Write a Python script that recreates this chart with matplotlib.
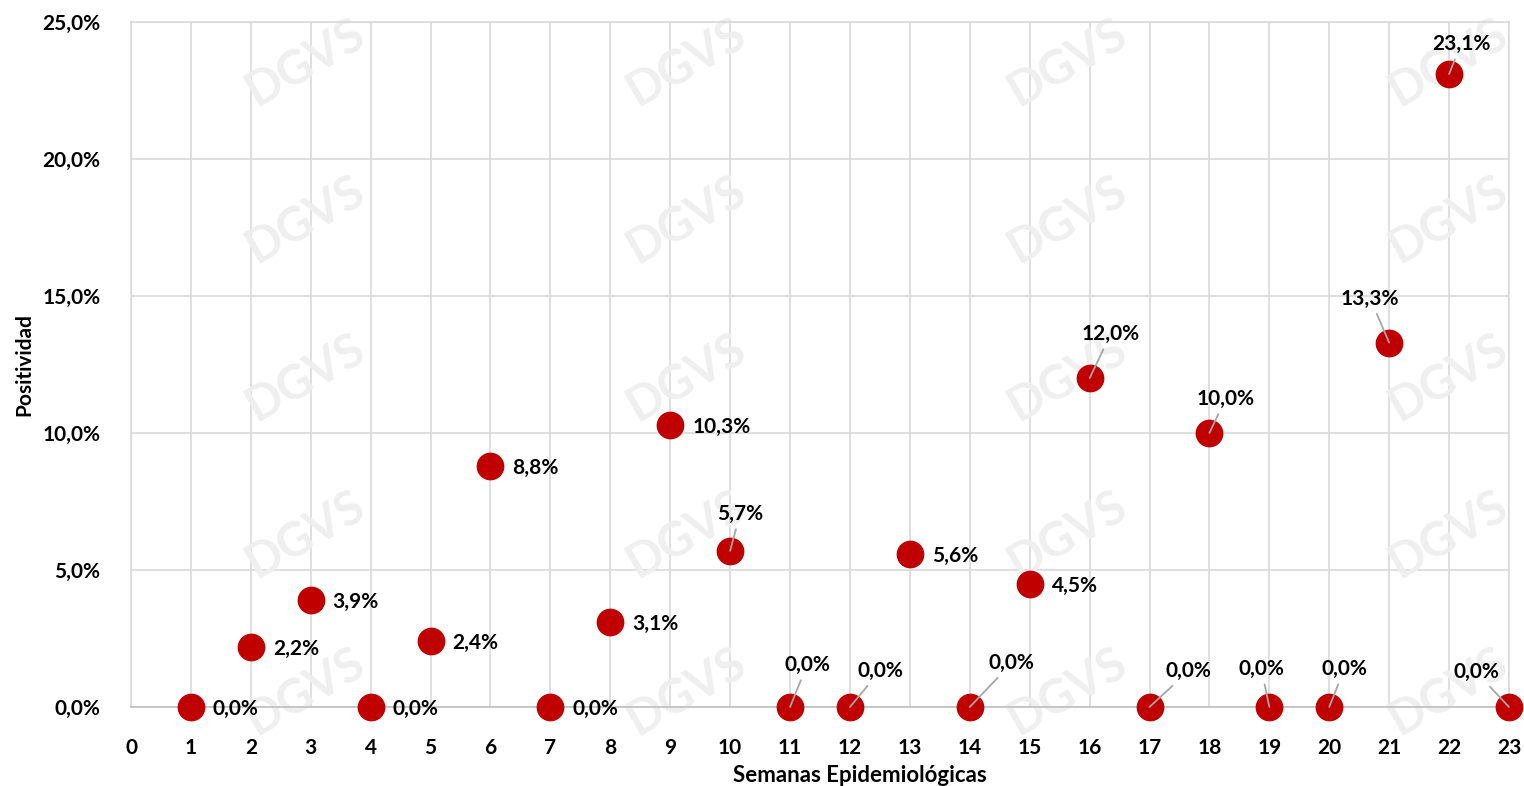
import numpy as np
import matplotlib.pyplot as plt
from matplotlib.ticker import FuncFormatter

# datos: positividad por semana epidemiologica
semanas = [1, 2, 3, 4, 5, 6, 7, 8, 9, 10, 11, 12, 13, 14, 15, 16, 17, 18, 19, 20, 21, 22, 23]
positividad = [0.0, 2.2, 3.9, 0.0, 2.4, 8.8, 0.0, 3.1, 10.3, 5.7, 0.0, 0.0, 5.6, 0.0, 4.5,
               12.0, 0.0, 10.0, 0.0, 0.0, 13.3, 23.1, 0.0]

# label placement (offset in pixels from point, leader line yes/no)
offsets = [(22, -2, 0), (22, -2, 0), (22, -2, 0), (22, -2, 0),
           (22, -2, 0), (22, -2, 0), (22, -2, 0), (22, -2, 0),
           (22, -2, 0), (10, 37, 1), (17, 42, 1), (30, 36, 1),
           (22, -2, 0), (42, 44, 1), (22, -2, 0), (21, 44, 1),
           (39, 36, 1), (16, 34, 1), (-8, 38, 1), (15, 38, 1),
           (-19, 44, 1), (12, 30, 1), (-33, 35, 1)]

plt.rcParams['font.family'] = ['Lato', 'DejaVu Sans']
plt.rcParams['font.weight'] = 'bold'

fig = plt.figure(figsize=(15.24, 7.86), dpi=100)
ax = fig.add_axes([131/1524, 1 - 707/786, (1509-131)/1524, (707-22)/786])

grid_c = '#d9d9d9'

# faint watermark behind the marks
for wx in [0.20, 0.45, 0.70, 0.95]:
    for wy in [0.92, 0.72, 0.52, 0.32, 0.12]:
        ax.text(wx, wy, 'DGVS', fontsize=34, color='#efefef', rotation=30,
                ha='center', va='center', zorder=1, transform=fig.transFigure,
                clip_on=False)

ax.scatter(semanas, positividad, s=360, color='#c00000', zorder=4, clip_on=False)

fs = 15
for x, y, (dx, dy, lead) in zip(semanas, positividad, offsets):
    txt = f"{y:.1f}%".replace('.', ',')
    if lead:
        ax.annotate(txt, xy=(x, y), xytext=(dx, dy), textcoords='offset pixels',
                    ha='center', va='center', fontsize=fs, fontweight='bold',
                    arrowprops=dict(arrowstyle='-', color='#a6a6a6', lw=1.3,
                                    shrinkA=2, shrinkB=0),
                    zorder=5, annotation_clip=False)
    else:
        ax.annotate(txt, xy=(x, y), xytext=(dx, dy), textcoords='offset pixels',
                    ha='left', va='center', fontsize=fs, fontweight='bold',
                    zorder=5, annotation_clip=False)

ax.set_xlim(0, 23)
ax.set_ylim(0, 25)
ax.set_xticks(range(0, 24))
ax.set_yticks(np.arange(0, 26, 5))
ax.yaxis.set_major_formatter(FuncFormatter(lambda v, p: f"{v:.1f}%".replace('.', ',')))
ax.grid(True, color=grid_c, lw=1.2, zorder=0)
ax.set_axisbelow(True)
for s in ax.spines.values():
    s.set_color(grid_c)
    s.set_linewidth(1.2)
ax.spines['bottom'].set_color('#bfbfbf')
ax.tick_params(length=0, labelsize=fs, colors='black')
ax.tick_params(axis='y', pad=22)
ax.tick_params(axis='x', pad=22)
for lab in ax.get_xticklabels() + ax.get_yticklabels():
    lab.set_fontweight('bold')

ax.set_ylabel('Positividad', fontsize=15, fontweight='bold')
ax.yaxis.set_label_coords(-0.07, 0.5)
ax.set_xlabel('Semanas Epidemiológicas', fontsize=16, fontweight='bold')
ax.xaxis.set_label_coords(0.529, -0.084)

fig.savefig('out.png', dpi=100)
